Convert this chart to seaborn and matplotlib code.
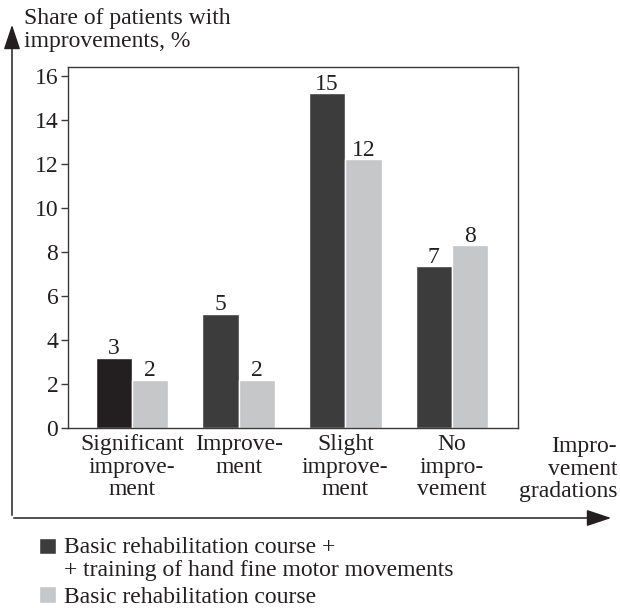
import matplotlib
matplotlib.use("Agg")
import matplotlib.pyplot as plt
import seaborn as sns
import pandas as pd

categories = ["Significant\nimprove-\nment", "Improve-\nment", "Slight\nimprove-\nment", "No\nimpro-\nvement"]
series_names = ["Basic rehabilitation course +\n+ training of hand fine motor movements",
                "Basic rehabilitation course"]
combined = [3.2, 5.2, 15.2, 7.35]
basic = [2.2, 2.2, 12.2, 8.3]
combined_labels = ["3", "5", "15", "7"]
basic_labels = ["2", "2", "12", "8"]
yticks = [0, 2, 4, 6, 8, 10, 12, 14, 16]

df = pd.DataFrame({
    "category": categories * 2,
    "series": [series_names[0]] * 4 + [series_names[1]] * 4,
    "value": combined + basic,
})

FS = 17
LS = 1.1
sns.set_style("white")
plt.rcParams["font.family"] = ["Liberation Serif", "DejaVu Serif"]
plt.rcParams["font.size"] = FS

fig = plt.figure(figsize=(6.2, 6.08), dpi=100)
ax = fig.add_axes([68 / 620, 180 / 608, 450 / 620, 361 / 608])

sns.barplot(data=df, x="category", y="value", hue="series", order=categories,
            hue_order=series_names, palette=["#3c3c3c", "#c6c7c8"],
            width=0.68, gap=0, saturation=1, ax=ax, errorbar=None)

# first bar darker as in reference
ax.containers[0].patches[0].set_facecolor("#231f20")

for cont, labs in zip(ax.containers, [combined_labels, basic_labels]):
    ax.bar_label(cont, labels=labs, padding=-1, fontsize=FS, color="#231f20")

ax.set_xlim(-0.6, 3.62)
ax.set_ylim(0, 16.4)
ax.set_yticks(yticks)
ax.set_yticklabels([str(t) for t in yticks])
ax.set_xlabel("")
ax.set_ylabel("")
for s in ax.spines.values():
    s.set_color("#3a3a3a")
    s.set_linewidth(1.0)
    s.set_visible(True)
ax.tick_params(axis="y", which="both", left=True, length=5, width=1, color="#3a3a3a",
               labelsize=FS, labelcolor="#231f20", pad=2)
ax.tick_params(axis="x", bottom=False, labelsize=FS, labelcolor="#231f20", pad=1)
for t in ax.get_xticklabels():
    t.set_linespacing(LS)
    t.set_verticalalignment("top")

sns.move_legend(ax, loc="upper left", bbox_to_anchor=(30 / 620, 80 / 608),
                bbox_transform=fig.transFigure, frameon=False, title=None,
                fontsize=FS, handlelength=0.7, handleheight=0.7,
                handletextpad=0.35, labelspacing=0.22, borderaxespad=0)
leg = ax.get_legend()
for t in leg.get_texts():
    t.set_color("#231f20")
    t.set_linespacing(LS)
# align the first handle with the first line of its two-line label
h0 = leg.legend_handles[0]
h0.set_y(h0.get_y() + 0.5 * FS * LS)

# outer arrows
arrow_kw = dict(arrowstyle="-|>,head_length=0.9,head_width=0.3", color="#231f20", lw=1.1)
ax.annotate("", xy=(12 / 620, 1 - 22 / 608), xytext=(12 / 620, 1 - 518 / 608),
            xycoords="figure fraction", textcoords="figure fraction", arrowprops=arrow_kw)
ax.annotate("", xy=(614 / 620, 1 - 518 / 608), xytext=(11 / 620, 1 - 518 / 608),
            xycoords="figure fraction", textcoords="figure fraction", arrowprops=arrow_kw)

fig.text(24 / 620, 1 - 8 / 608, "Share of patients with\nimprovements, %", ha="left", va="top",
         fontsize=FS, color="#231f20", linespacing=LS)
fig.text(617 / 620, 1 - 436 / 608, "Impro-\nvement\ngradations", ha="right", va="top",
         fontsize=FS, color="#231f20", linespacing=LS)

fig.savefig("out.png", dpi=100)
